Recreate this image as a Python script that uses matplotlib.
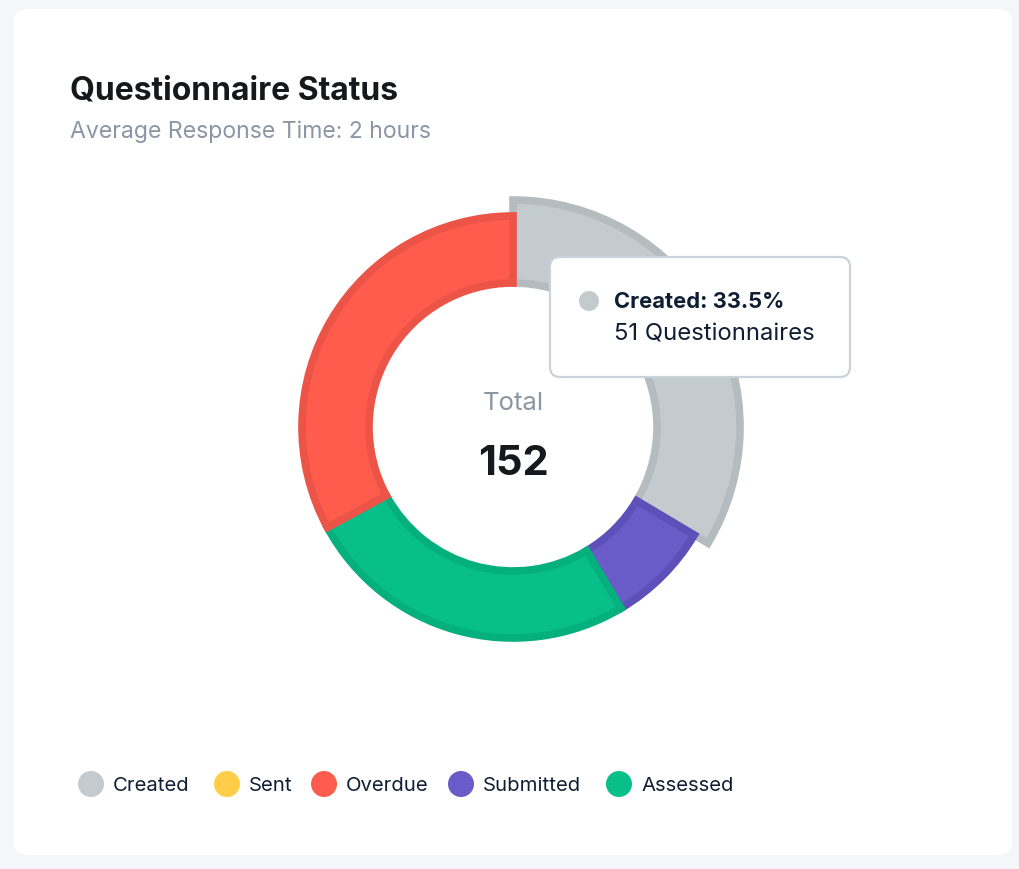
import math

import matplotlib
matplotlib.use("Agg")
import matplotlib.pyplot as plt
from matplotlib.patches import FancyBboxPatch, Circle

plt.rcParams["font.family"] = ["Inter", "DejaVu Sans"]

# data, legend order
LABELS = ["Created", "Sent", "Overdue", "Submitted", "Assessed"]
COUNTS = [51, 0, 50, 12, 39]
COLORS = ["#C3CBCE", "#FFCD48", "#FF5C4D", "#6A5BC8", "#08BF8A"]
EDGES = ["#B4BCBF", "#F0BF3C", "#EC5448", "#5D50B8", "#06B07E"]
# clockwise order around the ring, starting at 12 o'clock
RING_ORDER = ["Created", "Submitted", "Assessed", "Overdue", "Sent"]
HOVERED = "Created"

TITLE = "Questionnaire Status"
SUBTITLE = "Average Response Time: 2 hours"

W, H = 1020, 870
fig = plt.figure(figsize=(W / 100, H / 100), dpi=100)
fig.patch.set_facecolor("#F4F6FA")

bg = fig.add_axes([0, 0, 1, 1])
bg.set_xlim(0, W)
bg.set_ylim(H, 0)
bg.axis("off")
bg.add_patch(FancyBboxPatch((14, 10), 998, 846, boxstyle="round,pad=0,rounding_size=14",
                            facecolor="white", edgecolor="none"))
bg.text(70, 91, TITLE, fontsize=23, fontweight="bold", color="#16181D", va="center", ha="left")
bg.text(70, 132, SUBTITLE, fontsize=16.6, color="#8A96A3", va="center", ha="left")

# donut
cx, cy, r_out, r_in = 513, 428, 211, 144
half = 250
donut = fig.add_axes([(cx - half) / W, 1 - (cy + half) / H, 2 * half / W, 2 * half / H])

ring = [n for n in RING_ORDER if COUNTS[LABELS.index(n)] > 0]
ring_vals = [COUNTS[LABELS.index(n)] for n in ring]
ring_cols = [COLORS[LABELS.index(n)] for n in ring]
ring_edges = [EDGES[LABELS.index(n)] for n in ring]
wedges, _ = donut.pie(ring_vals, colors=ring_cols, startangle=90, counterclock=False,
                      radius=r_out, wedgeprops=dict(width=r_out - r_in, linewidth=0),
                      frame=True)
donut.set_xlim(-half, half)
donut.set_ylim(-half, half)
donut.set_aspect("equal")
donut.axis("off")
for w, name, ec in zip(wedges, ring, ring_edges):
    if name == HOVERED:
        w.set_radius(r_out + 16)
        w.set_width(r_out + 16 - r_in)
    w.set_edgecolor(ec)
    w.set_linewidth(5.5)
    w.set_clip_path(w)

total = sum(COUNTS)
over = fig.add_axes([0, 0, 1, 1])
over.set_xlim(0, W)
over.set_ylim(H, 0)
over.axis("off")
over.patch.set_alpha(0)

over.text(cx, 404, "Total", fontsize=18.5, color="#8A96A3", ha="center", va="center")
over.text(cx, 464, str(total), fontsize=30, fontweight="bold", color="#16181D", ha="center", va="center")

# tooltip
hi = LABELS.index(HOVERED)
pct = math.floor(COUNTS[hi] / total * 1000) / 10
over.add_patch(FancyBboxPatch((550, 258), 300, 120, boxstyle="round,pad=0,rounding_size=10",
                              facecolor="white", edgecolor="#C9D3DB", linewidth=1.6))
over.add_patch(Circle((589, 302), 10, facecolor=COLORS[hi], edgecolor="none"))
over.text(614, 302, f"{HOVERED}: {pct:.1f}%", fontsize=15.8,
          fontweight="bold", color="#0F1E33", va="center", ha="left")
over.text(614, 335, f"{COUNTS[hi]} Questionnaires", fontsize=17.2, color="#0F1E33",
          va="center", ha="left")

# legend
legend_x = [91, 227, 324, 461, 619]
for x, label, col in zip(legend_x, LABELS, COLORS):
    over.add_patch(Circle((x, 785), 13, facecolor=col, edgecolor="none"))
    over.text(x + 22, 786, label, fontsize=14.6, color="#0F1E33", va="center", ha="left")

fig.savefig("out.png", dpi=100, facecolor=fig.get_facecolor())
